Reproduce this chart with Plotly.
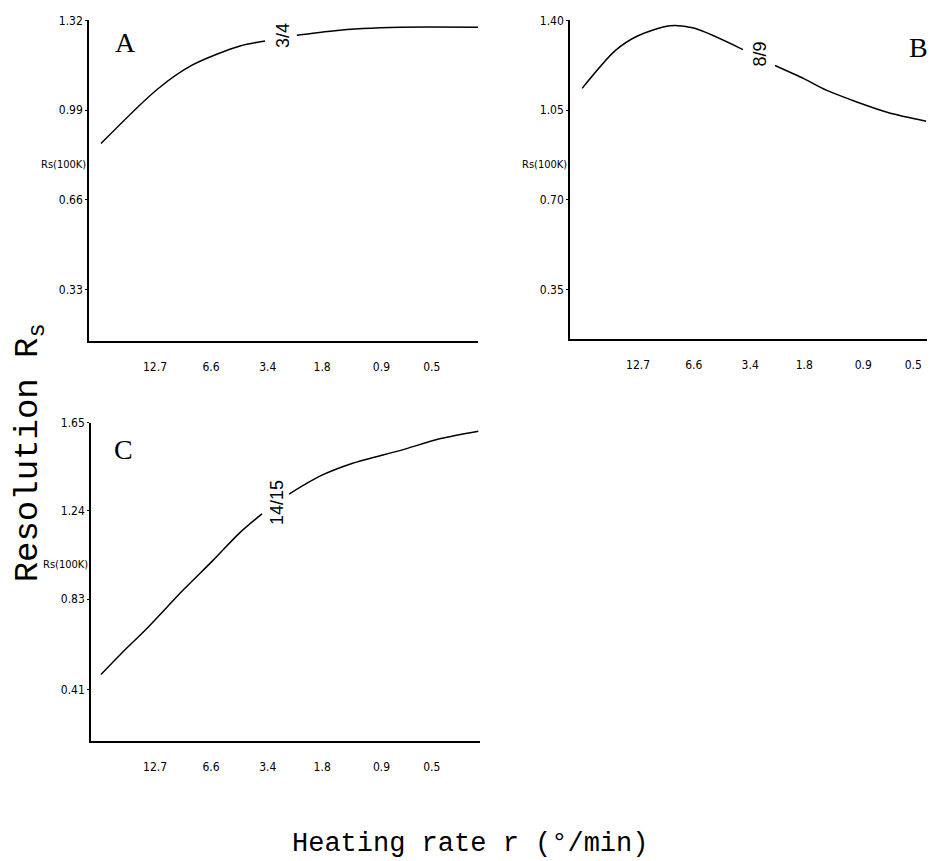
import math
import plotly.graph_objects as go

W, H = 931, 861

# ---------------- data ----------------
tick_rates = [12.7, 6.6, 3.4, 1.8, 0.9, 0.5]
tick_text = ["12.7", "6.6", "3.4", "1.8", "0.9", "0.5"]

rate_A = [23.9, 12.4, 8.15, 4.70, 3.51, None, 2.42, 1.64, 1.12, 0.72, 0.29]
Rs_A = [0.867, 1.066, 1.157, 1.226, 1.244, None, 1.265, 1.280, 1.290, 1.295, 1.295]
yticks_A = [0.33, 0.66, 0.99, 1.32]
yticklabels_A = ["0.33", "0.66", "0.99", "1.32"]

rate_B = [24.5, 16.6, 12.7, 8.73, 6.6, 3.70, None, 2.54, 1.8, 1.38, 0.68, 0.43]
Rs_B = [1.135, 1.282, 1.340, 1.379, 1.370, 1.286, None, 1.224, 1.172, 1.127, 1.042, 1.007]
yticks_B = [0.35, 0.70, 1.05, 1.40]
yticklabels_B = ["0.35", "0.70", "1.05", "1.40"]

rate_C = [23.9, 19.1, 13.9, 9.17, 6.45, 4.71, 3.64, None, 2.65, 1.85, 1.26, 0.72, 0.45, 0.29]
Rs_C = [0.48, 0.572, 0.696, 0.871, 1.010, 1.139, 1.226, None, 1.318, 1.401, 1.461, 1.521, 1.576, 1.610]
yticks_C = [0.41, 0.83, 1.24, 1.65]
yticklabels_C = ["0.41", "0.83", "1.24", "1.65"]

# --------------------------------------------------------------
def px_x(p):
    return p / W

def px_y(p):
    return 1 - p / H

narrow = "Liberation Sans Narrow, DejaVu Sans Condensed, Arial Narrow, sans-serif"
mono = "Liberation Mono, Courier New, DejaVu Sans Mono, monospace"
serif = "Liberation Serif, DejaVu Serif, serif"

fig = go.Figure()
line = dict(color="black", width=1.5, shape="spline", smoothing=0.8)
fig.add_trace(go.Scatter(x=rate_A, y=Rs_A, mode="lines", line=line,
                         connectgaps=False, xaxis="x", yaxis="y", showlegend=False))
fig.add_trace(go.Scatter(x=rate_B, y=Rs_B, mode="lines", line=line,
                         connectgaps=False, xaxis="x2", yaxis="y2", showlegend=False))
fig.add_trace(go.Scatter(x=rate_C, y=Rs_C, mode="lines", line=line,
                         connectgaps=False, xaxis="x3", yaxis="y3", showlegend=False))

def xax(domain, rng):
    return dict(type="log", domain=domain, range=rng, tickvals=tick_rates, ticktext=tick_text,
                showgrid=False, zeroline=False, showline=True, linecolor="black", linewidth=1.5,
                ticks="", ticklabelstandoff=14,
                tickfont=dict(family=narrow, size=12, color="black"))

def yax(domain, rng, tv, tt, anchor):
    return dict(domain=domain, range=rng, tickvals=tv, ticktext=tt, anchor=anchor,
                showgrid=False, zeroline=False, showline=True, linecolor="black", linewidth=1.5,
                ticks="outside", ticklen=2, tickcolor="black", ticklabelstandoff=0,
                tickfont=dict(family=narrow, size=12, color="black"))

fig.update_layout(
    width=W, height=H, margin=dict(l=0, r=0, t=0, b=0),
    paper_bgcolor="white", plot_bgcolor="white",
    xaxis=dict(**xax([px_x(89), px_x(478)], [1.439, -0.536]), anchor="y"),
    yaxis=yax([px_y(337), px_y(13.5)], [0.14, 1.32], yticks_A, yticklabels_A, "x"),
    xaxis2=dict(**xax([px_x(570), px_x(927)], [1.451, -0.371]), anchor="y2"),
    yaxis2=yax([px_y(335), px_y(13.5)], [0.157, 1.40], yticks_B, yticklabels_B, "x2"),
    xaxis3=dict(**xax([px_x(91), px_x(480)], [1.429, -0.546]), anchor="y3"),
    yaxis3=yax([px_y(740), px_y(419)], [0.171, 1.65], yticks_C, yticklabels_C, "x3"),
)

ann = []
# panel letters
for txt, x, y in [("A", 125, 36), ("B", 918, 41), ("C", 123, 446)]:
    ann.append(dict(text=txt, xref="paper", yref="paper", x=px_x(x), y=px_y(y),
                    showarrow=False, xanchor="center", yanchor="middle",
                    font=dict(family=serif, size=28, color="black")))
# curve labels (rotated)
for txt, xr, yr, xa, ya in [("3/4", 2.84, 1.263, "x", "y"), ("8/9", 3.04, 1.270, "x2", "y2"),
                            ("14/15", 3.05, 1.277, "x3", "y3")]:
    ann.append(dict(text=txt, xref=xa, yref=ya, x=math.log10(xr), y=yr,
                    showarrow=False, textangle=-90, xanchor="center", yanchor="middle",
                    font=dict(family="Liberation Sans, Arial, sans-serif", size=18, color="black")))
# Rs(100K) labels
for xa, ya, yv in [("x", "y", 0.789), ("x2", "y2", 0.837), ("x3", "y3", 0.991)]:
    ann.append(dict(text="Rs(100K)", xref=xa + " domain", yref=ya, x=0, y=yv,
                    showarrow=False, xanchor="right", yanchor="middle", xshift=-1,
                    font=dict(family=narrow, size=11, color="black")))
# axis titles
ann.append(dict(text="Heating rate r (°/min)", xref="paper", yref="paper", x=px_x(470), y=px_y(844),
                showarrow=False, xanchor="center", yanchor="middle",
                font=dict(family=mono, size=27, color="black")))
ann.append(dict(text="Resolution R<sub>s</sub>", xref="paper", yref="paper", x=px_x(30), y=px_y(450),
                showarrow=False, xanchor="center", yanchor="middle", textangle=-90,
                font=dict(family=mono, size=34, color="black")))
fig.update_layout(annotations=ann)

fig.write_html("out.html")
